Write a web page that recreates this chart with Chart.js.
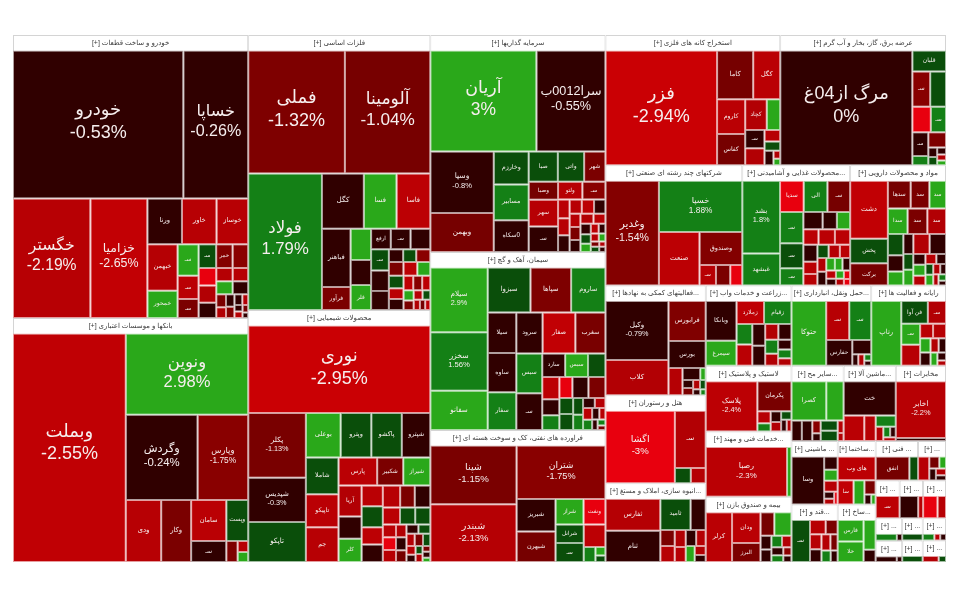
<!DOCTYPE html>
<html>
<head>
<meta charset="utf-8">
<style>
  html, body { margin: 0; padding: 0; background: #fff; }
  #wrap { width: 960px; height: 600px; }
</style>
<script src="https://cdn.jsdelivr.net/npm/chart.js@4/dist/chart.umd.js"></script>
</head>
<body>
<div id="wrap"><canvas id="map" width="960" height="600"></canvas></div>
<script>
// Sector names and market weights
const sectorNames = ['خودرو و ساخت قطعات [+]', 'بانکها و موسسات اعتباری [+]', 'فلزات اساسی [+]', 'محصولات شیمیایی [+]', 'سرمایه گذاریها [+]', 'سیمان، آهک و گچ [+]', 'فراورده های نفتی، کک و سوخت هسته ای [+]', 'استخراج کانه های فلزی [+]', 'عرضه برق، گاز، بخار و آب گرم [+]', 'شرکتهای چند رشته ای صنعتی [+]', '...محصولات غذایی و آشامیدنی [+]', 'مواد و محصولات دارویی [+]', '...فعالیتهای کمکی به نهادها [+]', 'هتل و رستوران [+]', '...انبوه سازی، املاک و مستغ [+]', '...زراعت و خدمات واب [+]', '...حمل ونقل، انبارداری [+]', 'رایانه و فعالیت ها [+]', 'لاستیک و پلاستیک [+]', '...خدمات فنی و مهند [+]', 'بیمه و صندوق بازن [+]', '...سایر مح [+]', '...ماشین آلا [+]', 'مخابرات [+]', '... ماشینی [+]', '...قند و [+]', '...ساختما [+]', '...ساخ [+]', '... فنی [+]', '... [+]', '... [+]', '... [+]', '... [+]', '... [+]', '... [+]', '... [+]', '... [+]', '... [+]', '... [+]'];
const sectorValues = [66505, 57340, 50050, 45864, 37975, 31150, 23100, 22750, 21580, 16440, 12960, 11520, 11000, 8800, 7900, 6880, 6400, 6000, 5620, 5600, 5580, 3922, 3922, 3774, 2925, 2655, 2405, 2183, 1672, 1102, 900, 880, 860, 600, 560, 460, 440, 520, 500];

// Tickers of each sector, blank cells at the end have no readable label
const stockNames = [
  ['خودرو', 'خساپا', 'خگستر', 'خزامیا', 'ورنا', 'خاور', 'خوساز', 'خبهمن', 'خمحور', 'سـ', 'سـ', 'سـ', 'سـ', 'خمر'],
  ['وبملت', 'ونوین', 'وگردش', 'وپارس', 'ودی', 'وکار', 'سامان', 'سـ', 'وپست'],
  ['فملی', 'آلومینا', 'فولاد', 'کگل', 'فسا', 'فاسا', 'فباهنر', 'فرآور', '', '', 'فلر', 'ارفع', 'سـ', '', 'سـ'],
  ['نوری', 'پکلر', 'شپدیس', 'تاپکو', 'بوعلی', 'وپترو', 'پاکشو', 'شپترو', 'شاملا', 'تاپیکو', 'جم', 'پارس', 'شکبیر', 'شیراز', 'آریا', '', 'کلر'],
  ['آریان', 'سرا0012ب', 'وسپا', 'وبهمن', 'وخارزم', 'مسابیر', '0سکاه', 'صبا', 'واتی', 'شهر', 'وصبا', 'سهر', 'سـ', 'ولتو', 'سـ'],
  ['سیلام', 'سخزر', 'سفانو', 'سبزوا', 'سپاها', 'ساروم', 'سیلا', 'ساوه', 'سفار', 'سرود', 'صفار', 'سغرب', 'سبس', 'سـ', 'سارد', 'سبس'],
  ['شپنا', 'شبندر', 'شتران', 'شبریز', 'شبهرن', 'شراز', 'ونفت', 'شرانل', 'سـ'],
  ['فزر', 'کاما', 'کگل', 'کاروم', 'کفاس', 'کچاد', '', 'سـ'],
  ['مرگ از04غ', 'قلبان', 'سـ', '', '', 'سـ', 'سـ'],
  ['وغدیر', 'خسپا', 'صنعت', 'وصندوق', 'سـ'],
  ['بشد', 'غبشهد', 'سدیا', 'الی', 'سـ', 'سـ', 'سـ', 'سـ'],
  ['دشت', 'پخش', 'برکت', 'سدها', 'سد', 'سد', 'سدا', 'سد', 'سد'],
  ['وکیل', 'کلاب', 'فرابورس', 'بورس'],
  ['اگشا', 'سـ'],
  ['ثفارس', 'ثنام', 'ثامید'],
  ['وبانکا', 'سیمرغ', 'زملارد', 'زقیام'],
  ['حتوکا', 'سـ', 'سـ', 'حفارس'],
  ['رتاپ', 'فن آوا', 'سـ', 'سـ'],
  ['پلاسک', 'پکرمان'],
  ['رصبا', ''],
  ['کرلر', 'ودان', 'البرز'],
  ['کصرا'],
  ['خت'],
  ['اخابر'],
  ['وسا'],
  ['سـ'],
  ['های وب', 'سا'],
  ['فارس', 'خلا'],
  ['انفق'],
  [],
  ['سـ'],
  [],
  [],
  [],
  [],
  [],
  [],
  [],
  []
];
const stockValues = [
  [23900, 9100, 8784, 6466, 1505, 1505, 1376, 1334, 783, 630, 462, 378, 396, 374, 352, 289, 289, 255, 204, 192, 204, 192, 120, 100, 100, 90, 80, 60, 50, 50, 40, 30],
  [24525, 9471, 5822, 4100, 2079, 1764, 1369, 703, 851, 228, 110, 100],
  [11186, 9877, 9453, 2173, 1696, 1749, 1566, 621, 600, 480, 480, 380, 380, 380, 357, 340, 320, 170, 156, 169, 190, 180, 170, 170, 150, 150, 130, 120, 110, 100, 90, 80, 70, 60, 50, 50],
  [14220, 3339, 2279, 2067, 1386, 1218, 1218, 1134, 1073, 957, 1015, 962, 650, 676, 640, 460, 480, 396, 396, 330, 330, 340, 290, 306, 260, 230, 230, 150, 150, 140, 120, 120, 110, 100, 100, 90, 90, 80, 70, 60, 50, 50, 40, 40, 30],
  [9888, 6432, 3591, 2280, 1056, 1152, 1024, 810, 729, 594, 486, 720, 690, 400, 380, 200, 180, 180, 160, 160, 150, 130, 130, 120, 120, 110, 100, 90, 80, 70, 60, 60, 50, 40, 40, 30, 30],
  [3172, 2860, 1924, 1640, 1560, 1320, 986, 952, 918, 918, 1140, 1050, 880, 814, 462, 462, 352, 324, 234, 216, 234, 288, 306, 187, 187, 140, 130, 100, 90, 90, 80, 70, 60, 50, 40, 30],
  [4592, 4510, 4312, 1147, 1073, 644, 504, 476, 483, 441, 160, 77, 60],
  [11760, 1620, 1215, 891, 810, 609, 377, 323, 304, 165, 135, 120, 50, 40],
  [14336, 665, 594, 528, 450, 368, 357, 140, 252, 80, 70, 60, 50, 40],
  [5000, 3818, 1938, 1260, 300, 260, 220],
  [2040, 900, 552, 552, 528, 540, 432, 300, 247, 182, 169, 176, 190, 176, 176, 130, 120, 110, 110, 100, 90, 90, 80, 70, 70, 60, 50, 50, 40, 40, 30],
  [1820, 770, 700, 528, 432, 384, 418, 418, 396, 270, 210, 180, 165, 270, 270, 130, 130, 110, 110, 100, 90, 80, 70, 70, 60, 50, 50, 40, 30],
  [3420, 2040, 1369, 925, 351, 192, 60, 80, 70, 60, 50, 40, 30],
  [4355, 1530, 210, 196],
  [1590, 1560, 860, 430, 210, 210, 170, 150, 150, 140, 130, 90, 70],
  [945, 594, 486, 486, 247, 260, 216, 200, 160, 160, 140, 120, 100, 90, 80],
  [1920, 770, 735, 575, 228, 60, 60, 40, 30],
  [1680, 525, 357, 342, 342, 160, 160, 130, 120, 100, 90, 80, 60, 40],
  [2350, 930, 144, 100, 100, 90, 80, 60, 50],
  [3504, 192],
  [968, 650, 400, 240, 300, 110, 100, 90, 80, 70, 60, 50, 40],
  [1120, 560, 176, 176, 88, 55, 144, 144, 60, 40],
  [1500, 442, 247, 190, 90, 60, 50, 40],
  [2544, 144],
  [1363, 154, 132, 130, 60, 50, 40],
  [589, 171, 130, 130, 110, 110, 90, 80, 60],
  [805, 345, 234, 144, 60, 40],
  [460, 437, 297, 121],
  [620, 160],
  [200, 90, 60, 60, 50, 40],
  [414],
  [270, 72],
  [216, 126],
  [161, 40],
  [119, 30],
  [98],
  [84],
  [60, 30, 30],
  [110, 50]
];
const stockChanges = [
  [-0.53, -0.26, -2.19, -2.65, -0.4, -2.2, -2.2, -2.1, 2.9, 3, -2.3, -1.2, 0.4, -1.5, -1.8, -3, -2, -0.3, -2.1, -2.2, 2.6, -0.3, -1.2, -2, -0.3, -1.6, -0.2, -2, -0.3, -2.2, -1, -0.2],
  [-2.55, 2.98, -0.24, -1.75, -2.2, -1.2, -2.3, -0.3, 0.5, -1.3, -2.2, 2.2],
  [-1.32, -1.04, 1.79, -0.3, 2.8, -2.4, -0.3, -1.2, 2.7, -0.3, 2.6, -0.3, -0.4, -0.3, 0.4, -0.3, -0.3, -0.3, 0.3, -1.8, -1.2, -2.4, 2.7, 0.5, -2.3, -0.3, -2.5, -1.7, -2.4, 2.3, -1.2, -2.2, 0.5, -2, -1, -2.4],
  [-2.95, -1.13, -0.3, 0.5, 2.7, 0.4, 0.5, -0.3, 0.5, -2.3, -2.2, -2.3, -1.2, 2, -2, -0.3, 2.5, -2.3, 0.5, -2.4, -0.3, -2.2, -1.2, -0.3, -2.3, 0.5, 0.5, -2.3, -3, -2.2, -2, -0.3, -1, -0.3, 0.5, -2.1, -1.2, 0.5, -2.2, -0.3, 0.4, -2, -1.2, -0.3, 2],
  [3, -0.55, -0.8, -1, 0.4, 1.9, -0.3, 0.5, 0.4, -1.2, -1, -2.2, -0.3, -2.2, -1.8, -2.3, -2.2, -0.3, -2.2, -2.4, -0.3, -2.2, -1.2, -0.3, -2, -2.3, -0.3, 0.4, 2, -2.4, -0.2, -2.2, 2.2, -1.2, 0.4, -2, -0.3],
  [2.9, 1.56, 3, 0.6, -1.3, 1.6, -0.3, -0.3, 1.9, -0.3, -2.6, -1.1, 1.9, -0.3, -0.3, 3, 0.4, -2.4, -0.3, 1.5, -3, -0.3, -1.2, 0.5, 0.5, 0.5, 1.5, -0.3, -2.2, -2.4, 1.2, -0.3, -2.2, -0.3, 1.2, -1],
  [-1.15, -2.13, -1.75, -0.3, -1, 2.4, -3, 0.4, 0.4, -2.4, 1.9, 2, 0.4],
  [-2.94, -1, -2.3, -2.3, -1, -2, 2.9, -0.3, -2, -2.2, 0.4, -0.4, -2, 2],
  [0, 0.4, -1.7, 0.4, -3, 1.8, -0.3, 1.8, -1.3, -0.3, 0.4, -0.3, -2, 2],
  [-1.54, 1.88, -2.4, -1.5, -2.2, -1.2, -3],
  [1.8, 1.7, -3, 1.7, -1, 1.6, 0.4, 1.8, -0.3, -0.3, 2.8, -2.3, -2.3, -2.3, -0.3, -2.3, -2.2, 0.4, -2.1, -2.3, -2, -0.3, 2.6, 2.8, -0.3, -2.3, -0.2, 2.4, -2],
  [-2.6, 0.5, -1, -1, -1.2, 2.2, 2.6, -1.2, -2, 0.4, -0.3, 2.6, -0.3, -2, -0.3, 0.4, 2.4, -0.3, 2.2, -2.1, -2.2, -0.3, 0.4, 2.5, -2, -0.3, -2, 1.8, -0.2],
  [-0.79, -2, -1.4, -0.3, -2.1, -0.3, 2, -0.3, -1.2, -2, 0.5, -0.3, 1.8],
  [-3, -2, 0.5, -2.1],
  [-2.1, -0.3, 0.4, -0.3, -1.2, -2.2, -2, -2.2, -0.3, -2.1, 2.4, -2, -0.3],
  [-0.3, 2.9, -2.5, 1.9, 1.9, -2.3, -0.3, -0.3, -2, -0.3, 1.5, -2, -0.3, 1.8, -2],
  [2.7, -2.2, 1.3, -0.4, -0.3, -0.3, -2, 1.8, -0.4],
  [2.7, 0.5, -2, 2.5, -2.2, -2.3, -2.2, 2.5, -0.3, -2, -0.3, 2, -0.3, -2],
  [-2.4, -1.1, -2.2, 1.7, -0.3, -2, 0.5, -0.3, -2],
  [-2.3, 2],
  [-2.3, -2.3, -1.2, -1, 2.8, -0.3, -0.3, 1.9, -2, -0.3, 1.9, -1.9, -0.3],
  [2.8, 2.4, -0.3, -0.4, -1.8, -0.3, 0.5, 0.4, -2.2, -2],
  [-0.3, -2.3, -2.2, 1.8, -2, 1.6, -0.3, -2],
  [-2.2, -0.3],
  [-0.3, -0.3, 2, -2.2, -0.3, -2],
  [0.4, -2.2, -1.2, -2.2, -0.3, -2.1, -1.1, 1.6, -0.3],
  [-2.4, -2.6, 2.7, -1.2, -0.3, 2],
  [2.5, 2.6, 2.2, -0.3],
  [-1, 0.4],
  [-2.2, -1, 2.2, -0.3, -2, -0.3],
  [-2.4],
  [-0.3, -2.2],
  [-3, -2.2],
  [1.8, -0.3],
  [-0.3, -0.2],
  [0.4],
  [0.4],
  [1.7, -2.2, -0.3],
  [-2, 0.4]
];
// The source map was laid out wider than it is shown, so the x axis runs longer
const MAP_W = 1054, MAP_H = 527, HEADER = 15.5;

// Squarified layout, rows are laid along the shorter side
function squarify(values, box) {
  let {x0, y0, x1, y1} = box;
  let rest = values.reduce((a, b) => a + b, 0);
  const rects = [];
  let i0 = 0;
  while (i0 < values.length) {
    const dx = x1 - x0, dy = y1 - y0;
    const alpha = Math.max(dy / dx, dx / dy) / rest;
    let i1 = i0, sum = values[i1++], min = sum, max = sum;
    let beta = sum * sum * alpha;
    let best = Math.max(max / beta, beta / min);
    for (; i1 < values.length; i1++) {
      const v = values[i1];
      const s = sum + v, lo = Math.min(min, v), hi = Math.max(max, v);
      beta = s * s * alpha;
      const r = Math.max(hi / beta, beta / lo);
      if (r > best) break;
      best = r; sum = s; min = lo; max = hi;
    }
    if (dx < dy) {
      const h = dy * sum / rest;
      let x = x0;
      for (let i = i0; i < i1; i++) {
        const w = dx * values[i] / sum;
        rects.push({x0: x, y0: y0, x1: x + w, y1: y0 + h});
        x += w;
      }
      y0 += h;
    } else {
      const w = dx * sum / rest;
      let y = y0;
      for (let i = i0; i < i1; i++) {
        const h = dy * values[i] / sum;
        rects.push({x0: x0, y0: y, x1: x0 + w, y1: y + h});
        y += h;
      }
      x0 += w;
    }
    rest -= sum;
    i0 = i1;
  }
  return rects;
}

// Colours come in bands of one percent
function cellColor(c) {
  if (c > 0) {
    if (c < 1) return [10, 78, 10];
    if (c < 2) return [20, 128, 22];
    return [42, 168, 26];
  }
  const a = -c;
  if (a < 1) return [48, 0, 0];
  if (a < 2) return [Math.round(118 + (a - 1) * 25), 0, 0];
  if (a < 2.96) return [Math.round(178 + (a - 2) * 25), 0, 4];
  return [232, 0, 14];
}
function css(rgb) { return 'rgb(' + rgb.join(',') + ')'; }
function tint(rgb, a) { return css(rgb.map(v => Math.round(v + (255 - v) * a))); }

// Build the cells from the values
const sectorCells = [];
const stockCells = [];
squarify(sectorValues, {x0: 0, y0: 0, x1: MAP_W, y1: MAP_H}).forEach((r, s) => {
  sectorCells.push({...r, x: (r.x0 + r.x1) / 2, y: (r.y0 + r.y1) / 2, name: sectorNames[s], fill: '#fff', edge: '#d4d4d4', header: true});
  const inner = {x0: r.x0, y0: r.y0 + HEADER, x1: r.x1, y1: r.y1};
  squarify(stockValues[s], inner).forEach((c, i) => {
    const rgb = cellColor(stockChanges[s][i]);
    stockCells.push({...c, x: (c.x0 + c.x1) / 2, y: (c.y0 + c.y1) / 2, name: stockNames[s][i] || '', change: stockChanges[s][i], fill: css(rgb), edge: tint(rgb, 0.62)});
  });
});

class TreemapController extends Chart.DatasetController {
  update() {
    const meta = this._cachedMeta;
    this.updateElements(meta.data, 0, meta.data.length);
  }
  updateElements(elements, start, count) {
    const {xScale, yScale} = this._cachedMeta;
    const cells = this.getDataset().data;
    for (let i = start; i < start + count; i++) {
      const c = cells[i];
      const left = xScale.getPixelForValue(c.x0), right = xScale.getPixelForValue(c.x1);
      Object.assign(elements[i], {
        x: (left + right) / 2,
        y: yScale.getPixelForValue(c.y0),
        base: yScale.getPixelForValue(c.y1),
        width: right - left,
        horizontal: false,
        inflateAmount: 0,
        borderSkipped: {},
        options: {backgroundColor: c.fill, borderColor: c.edge, borderWidth: 1, borderSkipped: false, borderRadius: 0}
      });
    }
  }
}
TreemapController.id = 'treemap';
TreemapController.defaults = {dataElementType: 'bar'};
Chart.register(TreemapController);

function labelSize(area) {
  const side = Math.sqrt(area);
  if (side < 60) return 4.5 + side * 0.055;
  return Math.min(18, 7 + (side - 60) * 0.24);
}

// Sector titles and ticker labels
const cellLabels = {
  id: 'cellLabels',
  afterDatasetsDraw(chart) {
    const ctx = chart.ctx;
    const family = '"Liberation Sans", "DejaVu Sans", sans-serif';
    ctx.save();
    ctx.textAlign = 'center';
    ctx.textBaseline = 'middle';
    chart.data.datasets.forEach((ds, d) => {
      chart.getDatasetMeta(d).data.forEach((el, i) => {
        const c = ds.data[i];
        if (!c.name) return;
        const w = el.width, h = el.base - el.y;
        if (c.header) {
          let size = 7;
          ctx.direction = 'rtl';
          ctx.font = size + 'px ' + family;
          const tw = ctx.measureText(c.name).width;
          if (tw > w - 3) {
            size = Math.max(4, size * (w - 3) / tw);
            ctx.font = size + 'px ' + family;
          }
          ctx.fillStyle = '#3a3a3a';
          ctx.fillText(c.name, el.x, el.y + 8);
          return;
        }
        const area = w * h;
        let size = labelSize(area);
        const showPct = area > 2500;
        const pct = c.change + '%';
        ctx.font = size + 'px ' + family;
        const tw = Math.max(ctx.measureText(c.name).width, showPct ? ctx.measureText(pct).width : 0);
        if (tw > w - 4) size *= (w - 4) / tw;
        if (size < 3.5) return;
        ctx.font = size + 'px ' + family;
        ctx.fillStyle = '#f6eeee';
        const mid = el.y + h / 2 - h * 0.02;
        if (showPct) {
          ctx.direction = 'rtl';
          ctx.fillText(c.name, el.x, mid - size * 0.62);
          ctx.direction = 'ltr';
          ctx.fillText(pct, el.x, mid + size * 0.62);
        } else {
          ctx.direction = 'rtl';
          ctx.fillText(c.name, el.x, mid);
        }
      });
    });
    ctx.restore();
  }
};

new Chart(document.getElementById('map'), {
  type: 'treemap',
  data: {
    datasets: [
      {label: 'sectors', data: sectorCells, order: 2},
      {label: 'stocks', data: stockCells, order: 1}
    ]
  },
  options: {
    responsive: false,
    animation: false,
    events: [],
    layout: {padding: {left: 13, top: 35, right: 14, bottom: 38}},
    plugins: {legend: {display: false}, tooltip: {enabled: false}},
    scales: {
      x: {type: 'linear', display: false, min: 0, max: MAP_W},
      y: {type: 'linear', display: false, min: 0, max: MAP_H, reverse: true}
    }
  },
  plugins: [cellLabels]
});
</script>
</body>
</html>
